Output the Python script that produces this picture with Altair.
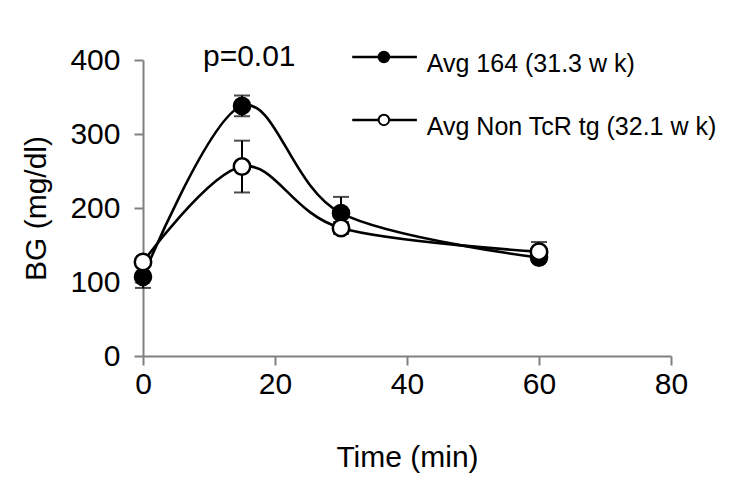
import altair as alt
import pandas as pd

# ---- data ----
time_min = [0, 15, 30, 60]
avg164_mean = [107, 338, 193, 133]
avg164_err = [15, 14, 22, 6]
nontcr_mean = [127, 256, 173, 141]
nontcr_err = [5, 35, 8, 13]

series_names = ["Avg 164 (31.3 w k)", "Avg Non TcR tg (32.1 w k)"]
x_ticks = [0, 20, 40, 60, 80]
y_ticks = [0, 100, 200, 300, 400]
p_text = "p=0.01"

FONT = "Liberation Sans"

def frame(means, errs):
    return pd.DataFrame({
        "t": time_min,
        "bg": means,
        "lo": [m - e for m, e in zip(means, errs)],
        "hi": [m + e for m, e in zip(means, errs)],
    })

d164 = frame(avg164_mean, avg164_err)
dnon = frame(nontcr_mean, nontcr_err)

xs = alt.Scale(domain=[0, 80], nice=False, zero=False)
ys = alt.Scale(domain=[0, 400], nice=False)

X = alt.X("t:Q", scale=xs, axis=alt.Axis(
    values=x_ticks, title="Time (min)", grid=False, labelFlush=False,
    titleX=264, titleY=110, titleBaseline="alphabetic", titleAlign="center",
))
Y = alt.Y("bg:Q", scale=ys, axis=alt.Axis(
    values=y_ticks, title="BG (mg/dl)", grid=False, labelFlush=False,
    titleX=-107, titleY=148, titleAngle=-90, titleAlign="center", titleBaseline="middle",
))


def series_layers(df, filled):
    base = alt.Chart(df)
    rule = base.mark_rule(color="black", strokeWidth=2).encode(
        x=alt.X("t:Q", scale=xs), y=alt.Y("lo:Q", scale=ys), y2="hi:Q")
    cap_hi = base.mark_tick(color="black", orient="horizontal", size=16, thickness=2).encode(
        x=alt.X("t:Q", scale=xs), y=alt.Y("hi:Q", scale=ys))
    cap_lo = base.mark_tick(color="black", orient="horizontal", size=16, thickness=2).encode(
        x=alt.X("t:Q", scale=xs), y=alt.Y("lo:Q", scale=ys))
    line = base.mark_line(color="black", strokeWidth=2.6, interpolate="cardinal").encode(x=X, y=Y)
    pts = base.mark_point(
        shape="circle", filled=True, size=260 if filled else 270,
        fill="black" if filled else "white", stroke="black",
        strokeWidth=2.5, opacity=1,
    ).encode(x=alt.X("t:Q", scale=xs), y=alt.Y("bg:Q", scale=ys))
    return [rule, cap_hi, cap_lo, line, pts]


# legend (placed in data coordinates)
leg_rows = pd.DataFrame({
    "x1": [31.7, 31.7],
    "x2": [41.5, 41.5],
    "xm": [36.5, 36.5],
    "xt": [43.0, 43.0],
    "ym": [404, 319],
    "yt": [384, 299],
    "label": series_names,
    "fillc": ["black", "white"],
})
leg = alt.Chart(leg_rows)
leg_line = leg.mark_rule(color="black", strokeWidth=2.5).encode(
    x=alt.X("x1:Q", scale=xs), x2="x2:Q", y=alt.Y("ym:Q", scale=ys))
leg_pts = leg.mark_point(shape="circle", filled=True, size=110, stroke="black",
                         strokeWidth=2, opacity=1).encode(
    x=alt.X("xm:Q", scale=xs), y=alt.Y("ym:Q", scale=ys),
    fill=alt.Fill("fillc:N", scale=None))
leg_txt = leg.mark_text(align="left", baseline="alphabetic", font=FONT, fontSize=25,
                        color="black").encode(
    x=alt.X("xt:Q", scale=xs), y=alt.Y("yt:Q", scale=ys), text="label:N")

ptxt = alt.Chart(pd.DataFrame({"t": [16.1], "bg": [392], "txt": [p_text]})).mark_text(
    align="center", baseline="alphabetic", font=FONT, fontSize=30, color="black"
).encode(x=alt.X("t:Q", scale=xs), y=alt.Y("bg:Q", scale=ys), text="txt:N")

layers = series_layers(d164, True) + series_layers(dnon, False) + [leg_line, leg_pts, leg_txt, ptxt]

chart = alt.layer(*layers).properties(
    width=528, height=296,
    autosize=alt.AutoSizeParams(type="none"),
    padding={"left": 135, "top": 52, "right": 60, "bottom": 120},
).configure_view(stroke=None).configure_axis(
    domainColor="#808080", domainWidth=2, tickColor="#808080", tickWidth=2, tickSize=9,
    labelFont=FONT, labelFontSize=30, labelColor="black", labelPadding=4,
    titleFont=FONT, titleFontSize=30, titleColor="black", titleFontWeight="normal",
).configure_axisY(labelPadding=14)

chart.save("out.html", embed_options={"renderer": "svg", "actions": False})
